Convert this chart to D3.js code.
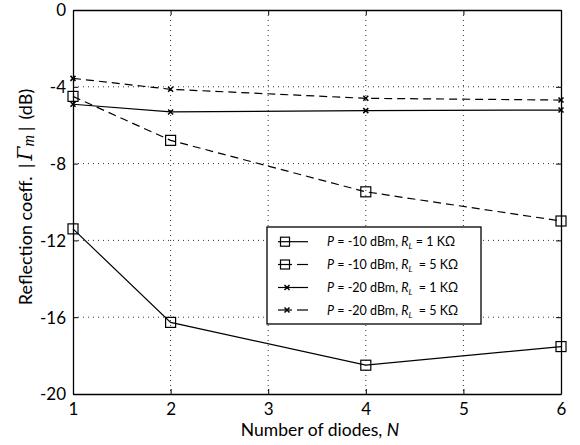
<!DOCTYPE html>
<html><head><meta charset="utf-8">
<script src="https://cdn.jsdelivr.net/npm/d3@7"></script>
<style>body{margin:0;background:#fff}svg{display:block}text{font-family:Lato,"Open Sans",sans-serif;fill:#000}</style>
</head><body>
<svg id="c" width="580" height="445"></svg>
<script>
const diodes = [1, 2, 4, 6];
const s1 = [-11.4, -16.27, -18.5, -17.53];   // P=-10 dBm, RL=1K
const s2 = [-4.5, -6.79, -9.47, -10.99];     // P=-10 dBm, RL=5K
const s3 = [-4.91, -5.31, -5.24, -5.21];     // P=-20 dBm, RL=1K
const s4 = [-3.56, -4.13, -4.6, -4.69];      // P=-20 dBm, RL=5K
const xTicks = [1, 2, 3, 4, 5, 6];
const yTicks = [0, -4, -8, -12, -16, -20];
const legendP = ["-10", "-10", "-20", "-20"];
const legendR = ["1", "5", "1", "5"];

const series = [
  {v: s1, marker: "square", dash: null},
  {v: s2, marker: "square", dash: "8,5"},
  {v: s3, marker: "x", dash: null},
  {v: s4, marker: "x", dash: "8,5"}
];

const svg = d3.select("#c");
const L = 73, R = 561, T = 10, B = 394;
const x = d3.scaleLinear().domain([1, 6]).range([L, R]);
const y = d3.scaleLinear().domain([-20, 0]).range([B, T]);

// grid
const g = svg.append("g");
g.selectAll(".gx").data(xTicks.slice(1, -1)).enter().append("line")
  .attr("x1", d => x(d)).attr("x2", d => x(d)).attr("y1", T).attr("y2", B)
  .attr("stroke", "#333").attr("stroke-width", 1).attr("stroke-dasharray", "1,4");
g.selectAll(".gy").data(yTicks.slice(1, -1)).enter().append("line")
  .attr("y1", d => y(d)).attr("y2", d => y(d)).attr("x1", L).attr("x2", R)
  .attr("stroke", "#333").attr("stroke-width", 1).attr("stroke-dasharray", "1,4");

// axes
const fmt = d => String(d);
const ax = d3.axisBottom(x).tickValues(xTicks).tickFormat(fmt).tickSizeInner(-5).tickSizeOuter(0).tickPadding(9);
const ay = d3.axisLeft(y).tickValues(yTicks).tickFormat(fmt).tickSizeInner(-5).tickSizeOuter(0).tickPadding(7);
const axT = d3.axisTop(x).tickValues(xTicks).tickSizeInner(-5).tickSizeOuter(0).tickFormat("");
const ayR = d3.axisRight(y).tickValues(yTicks).tickSizeInner(-5).tickSizeOuter(0).tickFormat("");
const gx = svg.append("g").attr("transform", `translate(0,${B})`).call(ax);
const gy = svg.append("g").attr("transform", `translate(${L},0)`).call(ay);
svg.append("g").attr("transform", `translate(0,${T})`).call(axT);
svg.append("g").attr("transform", `translate(${R},0)`).call(ayR);
svg.selectAll(".domain").attr("stroke", "#000").attr("stroke-width", 1.3);
svg.selectAll(".tick line").attr("stroke", "#000").attr("stroke-width", 1);
gx.selectAll("text").attr("font-size", 17).attr("font-family", "Lato");
gy.selectAll("text").attr("font-size", 17).attr("font-family", "Lato").attr("dy", "0.35em");

// lines
const line = d3.line().x((d, i) => x(diodes[i])).y(d => y(d));
series.forEach(s => {
  svg.append("path").datum(s.v).attr("d", line).attr("fill", "none")
    .attr("stroke", "#000").attr("stroke-width", 1.2)
    .attr("stroke-dasharray", s.dash);
});

function drawMarker(sel, type, cx, cy, size) {
  if (type === "square") {
    sel.append("rect").attr("x", cx - size / 2).attr("y", cy - size / 2)
      .attr("width", size).attr("height", size)
      .attr("fill", "none").attr("stroke", "#000").attr("stroke-width", 1.2);
  } else {
    const h = size / 2;
    sel.append("path").attr("d", `M${cx - h},${cy - h}L${cx + h},${cy + h}M${cx - h},${cy + h}L${cx + h},${cy - h}`)
      .attr("stroke", "#000").attr("stroke-width", 1.5).attr("fill", "none");
  }
}
series.forEach(s => {
  s.v.forEach((d, i) => drawMarker(svg, s.marker, x(diodes[i]), y(d), s.marker === "square" ? 10 : 5));
});

// legend
const lg = svg.append("g");
lg.append("rect").attr("x", 267).attr("y", 227).attr("width", 214).attr("height", 97)
  .attr("fill", "#fff").attr("stroke", "#000").attr("stroke-width", 1.3);
const rowY = [241.7, 264.5, 287.5, 310];
series.forEach((s, i) => {
  const yy = rowY[i];
  if (s.dash) {
    lg.append("line").attr("x1", 278).attr("x2", 292).attr("y1", yy).attr("y2", yy).attr("stroke", "#000").attr("stroke-width", 1.2);
    lg.append("line").attr("x1", 297).attr("x2", 308).attr("y1", yy).attr("y2", yy).attr("stroke", "#000").attr("stroke-width", 1.2);
  } else {
    lg.append("line").attr("x1", 278).attr("x2", 308).attr("y1", yy).attr("y2", yy).attr("stroke", "#000").attr("stroke-width", 1.2);
  }
  drawMarker(lg, s.marker, s.marker === "square" ? 285 : 287, yy, s.marker === "square" ? 9 : 5);
  const t = lg.append("text").attr("x", 327).attr("y", yy + 4.5).attr("font-size", 12.5);
  t.append("tspan").attr("font-style", "italic").text("P");
  t.append("tspan").text(` = ${legendP[i]} dBm, `);
  t.append("tspan").attr("font-style", "italic").text("R");
  t.append("tspan").attr("font-style", "italic").attr("font-size", 8.5).attr("dy", 3).text("L");
  t.append("tspan").attr("dy", -3).attr("dx", i === 0 ? 0 : 3).text(` = ${legendR[i]} KΩ`);
});

// axis titles
const xt = svg.append("text").attr("x", 320).attr("y", 436).attr("text-anchor", "middle").attr("font-size", 17.5);
xt.append("tspan").text("Number of diodes, ");
xt.append("tspan").attr("font-style", "italic").text("N");

const yt = svg.append("text").attr("transform", "translate(32,197) rotate(-90)")
  .attr("text-anchor", "middle").attr("font-size", 18);
yt.append("tspan").text("Reflection coeff.  ");
yt.append("tspan").attr("dx", 4).text("|");
yt.append("tspan").attr("dx", 3).attr("font-family", "DejaVu Serif, Liberation Serif, serif").attr("font-style", "italic").attr("font-size", 20).text("Γ");
yt.append("tspan").attr("font-family", "Liberation Serif, serif").attr("font-style", "italic").attr("font-size", 16).attr("dy", 2).text("m");
yt.append("tspan").attr("dy", -2).attr("dx", 4).text("|");
yt.append("tspan").attr("dx", 7).text("(dB)");
</script>
</body></html>
